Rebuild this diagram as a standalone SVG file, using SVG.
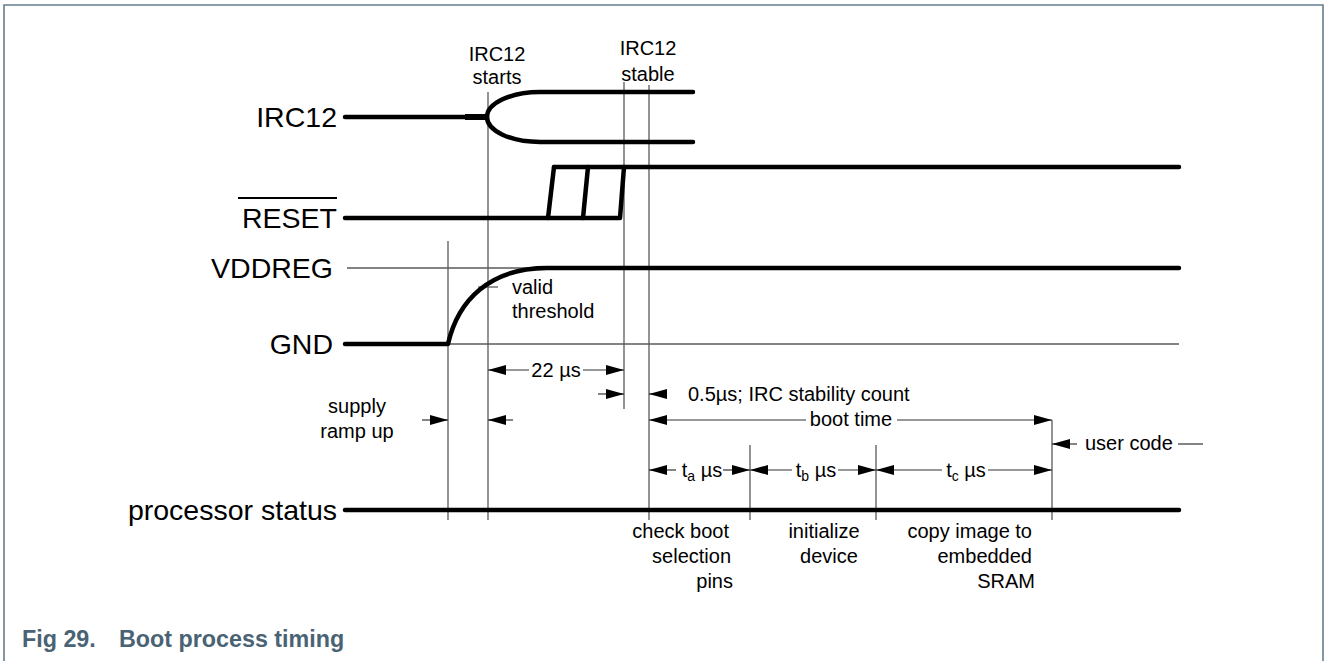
<svg xmlns="http://www.w3.org/2000/svg" width="1326" height="661" viewBox="0 0 1326 661">
<style>
text{font-family:"Liberation Sans",Arial,sans-serif;fill:#000}
.big{font-size:28.5px}
.sm{font-size:20px}
.sub{font-size:14px}
.cap{font-size:23.3px;font-weight:bold;fill:#4a6374}
.thick{fill:none;stroke:#000;stroke-width:4.5;stroke-linecap:round;stroke-linejoin:round}
.thin{fill:none;stroke:#5a5a5a;stroke-width:1.3}
.dim{fill:none;stroke:#333;stroke-width:1.2}
.frame{fill:none;stroke:#647d8c;stroke-width:1.6}
</style>
<defs>
<marker id="ah" viewBox="0 0 18 10" refX="18" refY="5" markerWidth="18" markerHeight="10" markerUnits="userSpaceOnUse" orient="auto-start-reverse">
<path d="M0,0 L18,5 L0,10 z" fill="#000"/>
</marker>
</defs>
<rect width="1326" height="661" fill="#fff"/>
<path class="frame" d="M4,661 V5 H1323 V661"/>

<g id="guides">
<line class="thin" x1="347" y1="268" x2="1179" y2="268"/>
<line class="thin" x1="347" y1="344" x2="1179" y2="344"/>
<line class="thin" x1="448" y1="241" x2="448" y2="520"/>
<line class="thin" x1="488" y1="92" x2="488" y2="520"/>
<line class="thin" x1="624" y1="82" x2="624" y2="409"/>
<line class="thin" x1="649" y1="85" x2="649" y2="520"/>
<line class="thin" x1="750" y1="445" x2="750" y2="520"/>
<line class="thin" x1="876" y1="445" x2="876" y2="520"/>
<line class="thin" x1="1052" y1="420" x2="1052" y2="520"/>
<line class="thin" x1="478" y1="287" x2="498" y2="287"/>
</g>

<g id="irc12">
<text class="big" x="337" y="127" text-anchor="end">IRC12</text>
<path class="thick" d="M345,117 H487"/>
<path fill="none" stroke="#000" stroke-width="6" d="M465,117 H487"/>
<path class="thick" d="M693,92 H540 A53,25 0 0 0 487,117 A53,25 0 0 0 540,142 H693"/>
</g>

<g id="reset">
<text class="big" x="337" y="228" text-anchor="end">RESET</text>
<line x1="238" y1="198" x2="337" y2="198" stroke="#000" stroke-width="1.8"/>
<path class="thick" d="M345,218 H620 L624,167"/>
<path class="thick" d="M554,167 H1179"/>
<path class="thick" d="M548,218 L554,167"/>
<path class="thick" d="M583,218 L588,167"/>
</g>

<g id="vddreg">
<text class="big" x="333" y="278" text-anchor="end">VDDREG</text>
<text class="big" x="333" y="354" text-anchor="end">GND</text>
<path class="thick" d="M345,344 H448 C458,300 490,268 547,268 H1179"/>
<text class="sm" x="512" y="294">valid</text>
<text class="sm" x="512" y="318">threshold</text>
</g>

<g id="processor">
<text class="big" x="337" y="520" text-anchor="end">processor status</text>
<path class="thick" d="M345,510 H1179"/>
</g>

<g id="labels">
<text class="sm" x="497" y="61" text-anchor="middle">IRC12</text>
<text class="sm" x="497" y="84" text-anchor="middle">starts</text>
<text class="sm" x="648" y="55" text-anchor="middle">IRC12</text>
<text class="sm" x="648" y="81" text-anchor="middle">stable</text>
<text class="sm" x="357" y="413" text-anchor="middle">supply</text>
<text class="sm" x="357" y="438" text-anchor="middle">ramp up</text>
<text class="sm" x="556" y="377" text-anchor="middle">22 µs</text>
<text class="sm" x="688" y="401">0.5µs; IRC stability count</text>
<text class="sm" x="851" y="426" text-anchor="middle">boot time</text>
<text class="sm" x="1085" y="450">user code</text>
<text class="sm" x="702" y="477" text-anchor="middle">t<tspan class="sub" dy="4">a</tspan><tspan dy="-4"> µs</tspan></text>
<text class="sm" x="816" y="477" text-anchor="middle">t<tspan class="sub" dy="4">b</tspan><tspan dy="-4"> µs</tspan></text>
<text class="sm" x="966" y="477" text-anchor="middle">t<tspan class="sub" dy="4">c</tspan><tspan dy="-4"> µs</tspan></text>
<text class="sm" x="729" y="538" text-anchor="end">check boot</text>
<text class="sm" x="731" y="563" text-anchor="end">selection</text>
<text class="sm" x="733" y="588" text-anchor="end">pins</text>
<text class="sm" x="824" y="538" text-anchor="middle">initialize</text>
<text class="sm" x="829" y="563" text-anchor="middle">device</text>
<text class="sm" x="1032" y="538" text-anchor="end">copy image to</text>
<text class="sm" x="1032" y="563" text-anchor="end">embedded</text>
<text class="sm" x="1035" y="588" text-anchor="end">SRAM</text>
</g>

<g id="connectors">
<path class="dim" d="M488,370 H529" marker-start="url(#ah)"/>
<path class="dim" d="M583,370 H624" marker-end="url(#ah)"/>
<path class="dim" d="M422,420 H448" marker-end="url(#ah)"/>
<path class="dim" d="M513,420 H488" marker-end="url(#ah)"/>
<path class="dim" d="M598,394 H624" marker-end="url(#ah)"/>
<path class="dim" d="M665,394 H649" marker-end="url(#ah)"/>
<path class="dim" d="M649,420 H806" marker-start="url(#ah)"/>
<path class="dim" d="M897,420 H1052" marker-end="url(#ah)"/>
<path class="dim" d="M1077,444 H1052" marker-end="url(#ah)"/>
<path class="dim" d="M1178,444 H1203"/>
<path class="dim" d="M649,470 H676" marker-start="url(#ah)"/>
<path class="dim" d="M723,470 H750" marker-end="url(#ah)"/>
<path class="dim" d="M750,470 H792" marker-start="url(#ah)"/>
<path class="dim" d="M838,470 H876" marker-end="url(#ah)"/>
<path class="dim" d="M876,470 H942" marker-start="url(#ah)"/>
<path class="dim" d="M988,470 H1052" marker-end="url(#ah)"/>
</g>

<g id="caption">
<text class="cap" x="22" y="647">Fig 29.</text>
<text class="cap" x="119" y="647">Boot process timing</text>
</g>
</svg>
